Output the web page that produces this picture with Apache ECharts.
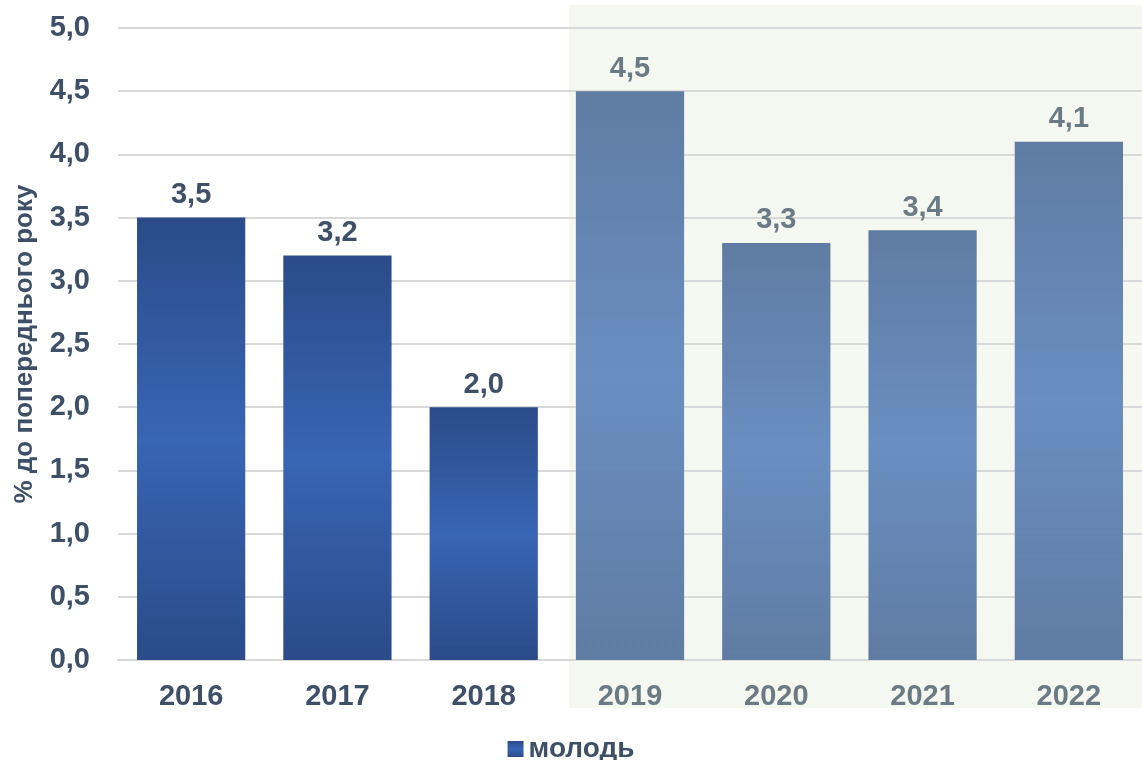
<!DOCTYPE html>
<html>
<head>
<meta charset="utf-8">
<script src="https://cdn.jsdelivr.net/npm/echarts@6/dist/echarts.min.js"></script>
<style>
  html, body { margin: 0; padding: 0; background: #fff; }
  #container { width: 1142px; height: 760px; }
</style>
</head>
<body>
<div id="container"></div>
<script>
// дані
var years = ['2016', '2017', '2018', '2019', '2020', '2021', '2022'];
var values = [3.5, 3.2, 2.0, 4.5, 3.3, 3.4, 4.1];
var forecastFrom = 3; // з 2019 — світліші стовпчики

var darkBar = new echarts.graphic.LinearGradient(0, 0, 0, 1, [
    { offset: 0, color: '#2b4b89' },
    { offset: 0.5, color: '#3865b4' },
    { offset: 1, color: '#2b4b89' }
]);
var lightBar = new echarts.graphic.LinearGradient(0, 0, 0, 1, [
    { offset: 0, color: '#5f7ca2' },
    { offset: 0.5, color: '#6a8ec2' },
    { offset: 1, color: '#5f7ca2' }
]);

function fmt(v) { return v.toFixed(1).replace('.', ','); }

var seriesData = values.map(function (v, i) {
    var light = i >= forecastFrom;
    return {
        value: v,
        itemStyle: { color: light ? lightBar : darkBar },
        label: { color: light ? '#6b7b86' : '#3e4f68' }
    };
});

var myChart = echarts.init(document.getElementById('container'));
var option = {
    backgroundColor: '#fff',
    textStyle: { fontFamily: 'Liberation Sans, Arial, sans-serif' },
    graphic: [{
        type: 'rect',
        z: -10,
        shape: { x: 569, y: 5, width: 573, height: 703 },
        style: { fill: '#f5f8f1' }
    }],
    grid: { left: 118, right: -3, top: 28, bottom: 100 },
    legend: {
        top: 730,
        left: 'center',
        itemWidth: 16,
        itemHeight: 16,
        itemGap: 10,
        icon: 'rect',
        textStyle: { fontSize: 28, fontWeight: 'bold', color: '#3e4f68' },
        data: ['молодь']
    },
    xAxis: {
        type: 'category',
        data: years,
        axisTick: { show: false },
        axisLine: { lineStyle: { color: '#d9d9d9', width: 2 } },
        axisLabel: {
            fontSize: 29,
            fontWeight: 'bold',
            margin: 22,
            color: function (val, idx) { return idx >= forecastFrom ? '#6b7b86' : '#3e4f68'; }
        }
    },
    yAxis: {
        type: 'value',
        min: 0,
        max: 5,
        interval: 0.5,
        name: '% до попереднього року',
        nameLocation: 'middle',
        nameGap: 80,
        nameTextStyle: { fontSize: 26, fontWeight: 'bold', color: '#3e4f68' },
        axisLabel: {
            fontSize: 29,
            fontWeight: 'bold',
            color: '#3e4f68',
            margin: 28,
            formatter: fmt
        },
        splitLine: { lineStyle: { color: '#d9d9d9', width: 2 } }
    },
    series: [{
        name: 'молодь',
        type: 'bar',
        barWidth: '74%',
        itemStyle: { color: darkBar },
        label: {
            show: true,
            position: 'top',
            distance: 8,
            fontSize: 29,
            fontWeight: 'bold',
            formatter: function (p) { return fmt(p.value); }
        },
        data: seriesData
    }]
};
myChart.setOption(option, true);
</script>
</body>
</html>
